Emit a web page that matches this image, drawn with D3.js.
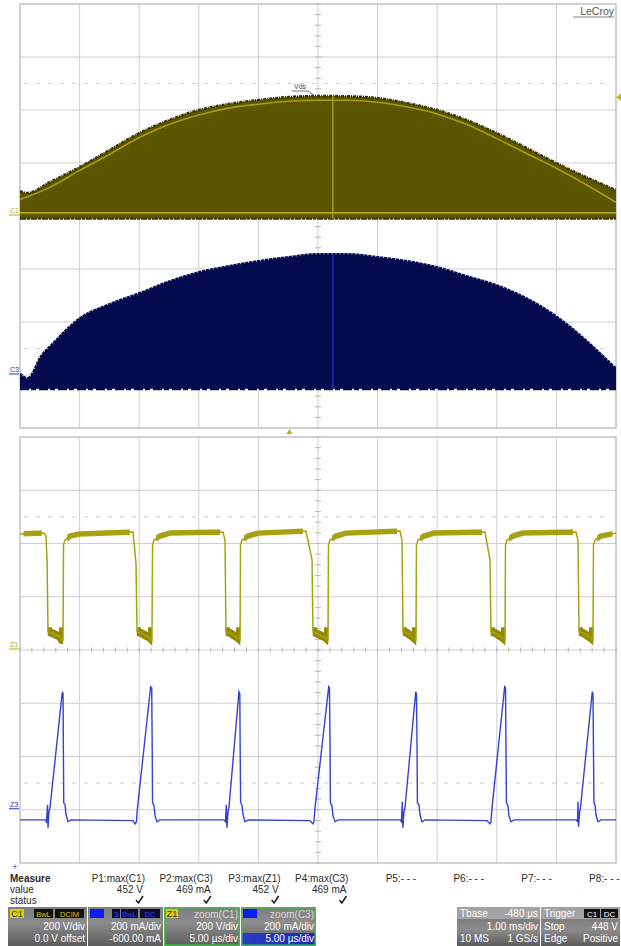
<!DOCTYPE html>
<html><head><meta charset="utf-8">
<script src="https://cdn.jsdelivr.net/npm/d3@7"></script>
<style>
html,body{margin:0;padding:0;background:#fff;}
svg{display:block;font-family:"Liberation Sans",Arial,sans-serif;}
</style></head><body>
<svg id="chart" width="621" height="946"></svg>
<script>
// ---------- DATA ----------
// Upper panel: C1 (Vds, V) and C3 (current, mA) vs time (ms), 1 ms/div
const c1Time = [0, 0.12, 0.5, 1, 1.5, 2, 2.5, 3, 3.5, 4, 4.5, 5, 5.5, 6, 6.5, 7, 7.5, 8, 8.5, 9, 9.5, 10];
const c1Max  = [94, 87, 128, 185, 249, 313, 362, 400, 423, 438, 449, 453, 452, 445, 426, 400, 362, 313, 257, 200, 147, 98];
const c1MidTime = [0, 0.5, 1, 1.5, 2, 2.5, 3, 3.5, 4, 4.5, 5, 5.5, 6, 6.5, 7, 7.5, 8, 8.5, 9, 9.5, 10];
const c1Mid  = [62, 108, 172, 232, 296, 345, 381, 407, 422, 433, 437, 437, 429, 411, 385, 345, 292, 236, 180, 118, 52];
const c1Floor = -10;
const c1Base = 12;

const c3Time = [0, 0.12, 0.34, 0.5, 1, 1.5, 2, 2.5, 3, 3.5, 4, 4.5, 5, 5.5, 6, 6.5, 7, 7.5, 8, 8.5, 9, 9.5, 10];
const c3Max  = [11, -8, 75, 113, 219, 272, 313, 358, 392, 415, 434, 449, 460, 460, 449, 434, 411, 377, 343, 294, 226, 136, 30];
const c3Floor = -52;

const cursorTime = 5.25;      // ms
const triggerTime = 4.52;     // ms
const triggerLevel = 448;     // V
const refLevelV = 500;        // V
const refLevelI = 100;        // mA

// Lower panel: Z1 (zoom C1, V) and Z3 (zoom C3, mA) vs time (µs), 5 µs/div
const z1Time = [0, 2.01, 2.18, 2.27, 2.35, 2.68, 3.36, 3.52, 3.61, 3.65, 3.78, 4.19, 5.03,
  9.48, 9.73, 9.82, 10.15, 10.91, 11.07, 11.12, 11.24, 11.74, 12.58,
  17.03, 17.20, 17.28, 17.62, 18.29, 18.46, 18.50, 18.62, 19.13, 19.97,
  23.99, 24.50, 24.58, 25.00, 25.67, 25.84, 25.88, 26.01, 26.51, 27.35,
  31.88, 32.05, 32.13, 32.47, 33.05, 33.22, 33.26, 33.39, 33.89, 34.73,
  39.01, 39.43, 39.51, 39.85, 40.52, 40.69, 40.73, 40.86, 41.36, 42.20,
  46.64, 46.81, 46.90, 47.23, 47.90, 48.07, 48.11, 48.24, 48.74, 50];
const z1Volt = [436, 439, 428, 338, 68, 64, 49, 38, 38, 394, 413, 428, 436,
  443, 327, 68, 64, 45, 38, 394, 413, 428, 439,
  443, 413, 68, 64, 45, 38, 394, 413, 428, 439,
  447, 338, 68, 60, 45, 38, 394, 413, 428, 439,
  447, 413, 68, 64, 45, 38, 394, 413, 428, 439,
  443, 338, 68, 64, 45, 38, 394, 413, 428, 439,
  443, 413, 68, 64, 45, 38, 394, 413, 428, 439];
const z1HighBands = [[0, 2.12], [3.67, 9.5], [11.13, 17.08], [18.51, 24.02], [25.9, 31.93], [33.28, 39.05], [40.75, 46.68], [48.13, 50]];
const z1LowBands  = [[2.33, 3.62], [9.80, 11.09], [17.26, 18.48], [24.56, 25.86], [32.11, 33.24], [39.49, 40.71], [46.88, 48.09]];

const z3Time = [0, 2.10, 2.22, 2.31, 2.35, 2.43, 2.52, 3.55, 3.61, 3.64, 3.67, 3.78, 3.86, 4.03, 4.28,
  9.48, 9.65, 9.77, 9.82, 10.96, 11.05, 11.09, 11.12, 11.24, 11.33, 11.49, 11.74,
  17.11, 17.24, 17.31, 17.36, 17.45, 17.53, 18.37, 18.44, 18.47, 18.51, 18.62, 18.71, 18.88, 19.13,
  24.33, 24.58, 24.66, 24.75, 25.90, 25.96, 26.01, 26.04, 26.17, 26.26, 26.43, 26.68,
  31.88, 32.00, 32.07, 32.12, 32.21, 32.30, 33.20, 33.26, 33.31, 33.34, 33.47, 33.56, 33.72, 33.98,
  39.18, 39.43, 39.51, 39.60, 40.66, 40.73, 40.77, 40.81, 40.94, 41.02, 41.19, 41.44,
  46.64, 46.77, 46.81, 46.86, 46.95, 47.02, 48.01, 48.07, 48.11, 48.15, 48.24, 48.32, 48.49, 48.74, 50];
const z3Current = [-38, -38, -45, 19, -68, -8, 8, 443, 436, 225, 26, 19, -19, -45, -38,
  -41, -53, -45, -8, 462, 458, 240, 26, 15, -23, -45, -38,
  -38, -45, 19, -68, -8, 8, 443, 436, 225, 26, 19, -19, -45, -38,
  -41, -53, -45, 8, 462, 458, 240, 26, 15, -23, -45, -38,
  -38, -45, 30, -68, -8, 8, 443, 436, 225, 26, 19, -19, -45, -38,
  -41, -53, -45, 8, 462, 458, 240, 26, 15, -23, -45, -38,
  -38, -45, 30, -64, -8, 8, 443, 436, 225, 26, 19, -19, -45, -38, -38];

// Measurement table
const measureNames  = ["P1:max(C1)", "P2:max(C3)", "P3:max(Z1)", "P4:max(C3)", "P5:- - -", "P6:- - -", "P7:- - -", "P8:- - -"];
const measureValues = ["452 V", "469 mA", "452 V", "469 mA", "", "", "", ""];
const measureStatus = [true, true, true, true, false, false, false, false];
const rowLabels = ["Measure", "value", "status"];

// Channel descriptors
const chanRow2 = ["200 V/div", "200 mA/div", "200 V/div", "200 mA/div"];
const chanRow3 = ["0.0 V offset", "-600.00 mA", "5.00 µs/div", "5.00 µs/div"];
const tbaseRows = [["Tbase", "-480 µs"], ["", "1.00 ms/div"], ["10 MS", "1 GS/s"]];
const trigRows  = [["Trigger", ""], ["Stop", "448 V"], ["Edge", "Positive"]];

// ---------- DRAW ----------
const svg = d3.select("#chart");
const L = 20, R = 616, UT = 4, UB = 428, LT = 437, LB = 863;

const xU  = d3.scaleLinear().domain([0, 10]).range([L, R]);
const yV  = d3.scaleLinear().domain([-800, 800]).range([UB, UT]);
const yI  = d3.scaleLinear().domain([-200, 1400]).range([UB, UT]);
const xL  = d3.scaleLinear().domain([0, 50]).range([L, R]);
const yZV = d3.scaleLinear().domain([-800, 800]).range([LB, LT]);
const yZI = d3.scaleLinear().domain([-200, 1400]).range([LB, LT]);

const defs = svg.append("defs");
const g1 = defs.append("linearGradient").attr("id", "boxg").attr("x1", 0).attr("y1", 0).attr("x2", 0).attr("y2", 1);
g1.append("stop").attr("offset", 0).attr("stop-color", "#7e7e7e");
g1.append("stop").attr("offset", 0.4).attr("stop-color", "#8c8c8c");
g1.append("stop").attr("offset", 1).attr("stop-color", "#5c5c5c");
const g2 = defs.append("linearGradient").attr("id", "blueg").attr("x1", 0).attr("y1", 0).attr("x2", 1).attr("y2", 0);
g2.append("stop").attr("offset", 0).attr("stop-color", "#2a3cc8");
g2.append("stop").attr("offset", 1).attr("stop-color", "#1a2ab0");
const cpHi = defs.append("clipPath").attr("id", "z1hi");
z1HighBands.forEach(b => cpHi.append("rect").attr("x", xL(b[0]) + 3.5).attr("width", Math.max(0, xL(b[1]) - xL(b[0]) - 7))
  .attr("y", yZV(470)).attr("height", yZV(405) - yZV(470)));
const cpLo = defs.append("clipPath").attr("id", "z1lo");
z1LowBands.forEach(b => cpLo.append("rect").attr("x", xL(b[0])).attr("width", xL(b[1]) - xL(b[0]))
  .attr("y", yZV(85)).attr("height", yZV(15) - yZV(85)));

function grid(xs, ys, xDivs, yDivs, top, bottom) {
  const g = svg.append("g");
  xDivs.forEach(v => g.append("line").attr("x1", xs(v)).attr("x2", xs(v)).attr("y1", top).attr("y2", bottom)
    .attr("stroke", "#cfcfcf").attr("stroke-width", 1));
  yDivs.forEach(v => g.append("line").attr("x1", L).attr("x2", R).attr("y1", ys(v)).attr("y2", ys(v))
    .attr("stroke", "#cfcfcf").attr("stroke-width", 1));
  g.append("rect").attr("x", L).attr("y", top).attr("width", R - L).attr("height", bottom - top)
    .attr("fill", "none").attr("stroke", "#c4c4c4").attr("stroke-width", 1.2);
  const cx = xs((xs.domain()[0] + xs.domain()[1]) / 2);
  const cy = (top + bottom) / 2;
  const dy = (bottom - top) / 40, dx = (R - L) / 50;
  for (let i = 0; i <= 40; i++) {
    const y = top + i * dy;
    g.append("line").attr("x1", cx - 3).attr("x2", cx + 3).attr("y1", y).attr("y2", y).attr("stroke", "#b8b8b8");
  }
  for (let i = 0; i <= 50; i++) {
    const x = L + i * dx;
    g.append("line").attr("x1", x).attr("x2", x).attr("y1", cy - 2.5).attr("y2", cy + 2.5).attr("stroke", "#b8b8b8");
  }
  return g;
}
grid(xU, yV, d3.range(0, 11), d3.range(-800, 801, 200), UT, UB);
grid(xL, yZV, d3.range(0, 51, 5), d3.range(-800, 801, 200), LT, LB);

function dashed(y) {
  svg.append("line").attr("x1", L + 4).attr("x2", R - 4).attr("y1", y).attr("y2", y)
    .attr("stroke", "#d6d6d6").attr("stroke-width", 1.2).attr("stroke-dasharray", "4,8");
}
dashed(yV(refLevelV)); dashed(yI(refLevelI)); dashed(yZV(refLevelV)); dashed(yZI(refLevelI));

// ---- C1 envelope ----
const c1Data = c1Time.map((t, i) => ({t, v: c1Max[i]}));
const c1MidData = c1MidTime.map((t, i) => ({t, v: c1Mid[i]}));
const curve = d3.curveMonotoneX;
svg.append("path").datum(c1Data)
  .attr("d", d3.area().x(d => xU(d.t)).y0(yV(c1Floor)).y1(d => yV(d.v)).curve(curve))
  .attr("fill", "#5c5500");
svg.append("path").datum(c1Data)
  .attr("d", d3.line().x(d => xU(d.t)).y(d => yV(d.v)).curve(curve))
  .attr("fill", "none").attr("stroke", "#3b3700").attr("stroke-width", 2.4).attr("stroke-dasharray", "3,1,1,1");
svg.append("path").datum(c1MidData)
  .attr("d", d3.line().x(d => xU(d.t)).y(d => yV(d.v)).curve(curve))
  .attr("fill", "none").attr("stroke", "#a59d10").attr("stroke-width", 1.6);
svg.append("line").attr("x1", L).attr("x2", R).attr("y1", yV(c1Base)).attr("y2", yV(c1Base))
  .attr("stroke", "#b0a812").attr("stroke-width", 1.8);
svg.append("line").attr("x1", L).attr("x2", R).attr("y1", yV(c1Floor)).attr("y2", yV(c1Floor))
  .attr("stroke", "#3d3900").attr("stroke-width", 2).attr("stroke-dasharray", "6,1,3,1");
svg.append("line").attr("x1", xU(cursorTime)).attr("x2", xU(cursorTime))
  .attr("y1", yV(452)).attr("y2", yV(c1Floor)).attr("stroke", "#b5ad14").attr("stroke-width", 1.2);

// ---- C3 envelope ----
const c3Data = c3Time.map((t, i) => ({t, v: c3Max[i]}));
svg.append("path").datum(c3Data)
  .attr("d", d3.area().x(d => xU(d.t)).y0(yI(c3Floor)).y1(d => yI(d.v)).curve(curve))
  .attr("fill", "#040a4e");
svg.append("path").datum(c3Data)
  .attr("d", d3.line().x(d => xU(d.t)).y(d => yI(d.v)).curve(curve))
  .attr("fill", "none").attr("stroke", "#ffffff").attr("stroke-width", 2.6).attr("stroke-dasharray", "1,3").attr("opacity", 0.8);
svg.append("line").attr("x1", L).attr("x2", R).attr("y1", yI(c3Floor)).attr("y2", yI(c3Floor))
  .attr("stroke", "#040a4e").attr("stroke-width", 3).attr("stroke-dasharray", "9,2,5,3");
svg.append("line").attr("x1", xU(cursorTime)).attr("x2", xU(cursorTime))
  .attr("y1", yI(460)).attr("y2", yI(c3Floor)).attr("stroke", "#1f34c0").attr("stroke-width", 1.4);

// ---- Z1 ----
const z1Color = "#aaa112";
const z1Data = z1Time.map((t, i) => ({t, v: z1Volt[i]}));
const z1Line = d3.line().x(d => xL(d.t)).y(d => yZV(d.v));
svg.append("path").datum(z1Data).attr("d", z1Line).attr("clip-path", "url(#z1hi)")
  .attr("fill", "none").attr("stroke", z1Color).attr("stroke-width", 5.5);
svg.append("path").datum(z1Data).attr("d", z1Line).attr("clip-path", "url(#z1lo)")
  .attr("fill", "none").attr("stroke", "#948b04").attr("stroke-width", 8);
svg.append("path").datum(z1Data).attr("d", z1Line)
  .attr("fill", "none").attr("stroke", z1Color).attr("stroke-width", 1.5);

// ---- Z3 ----
svg.append("path").datum(z3Time.map((t, i) => ({t, v: z3Current[i]})))
  .attr("d", d3.line().x(d => xL(d.t)).y(d => yZI(d.v)))
  .attr("fill", "none").attr("stroke", "#3243d2").attr("stroke-width", 1.4);

// ---- markers / labels ----
function chanLabel(txt, y, color) {
  svg.append("text").attr("x", 10).attr("y", y).attr("font-size", 7).attr("fill", color).text(txt);
  svg.append("line").attr("x1", 9).attr("x2", 19).attr("y1", y + 2).attr("y2", y + 2).attr("stroke", color).attr("stroke-width", 1);
}
chanLabel("C1", yV(0) - 3, "#b0a812");
chanLabel("C3", yI(0) - 3, "#2636c8");
chanLabel("Z1", yZV(0) - 3, "#b0a812");
chanLabel("Z3", yZI(0) - 3, "#2636c8");

svg.append("text").attr("x", 300).attr("y", 89).attr("text-anchor", "middle").attr("font-size", 7).attr("fill", "#444").text("Vds");
svg.append("line").attr("x1", 292).attr("x2", 308).attr("y1", 91).attr("y2", 91).attr("stroke", "#555").attr("stroke-width", 0.8);
svg.append("line").attr("x1", 308).attr("x2", 314).attr("y1", 91).attr("y2", 95).attr("stroke", "#555").attr("stroke-width", 0.8);

const tx = xU(triggerTime);
svg.append("path").attr("d", `M${tx - 3},${434} L${tx + 3},${434} L${tx},${429} Z`).attr("fill", "#b8b000");
const ty = yV(triggerLevel);
svg.append("path").attr("d", `M${621},${ty - 4} L${621},${ty + 4} L${616},${ty} Z`).attr("fill", "#c8c000");

svg.append("text").attr("x", 614).attr("y", 15).attr("text-anchor", "end").attr("font-size", 10.5).attr("fill", "#555").text("LeCroy");
svg.append("line").attr("x1", 573).attr("x2", 614).attr("y1", 17).attr("y2", 17).attr("stroke", "#666").attr("stroke-width", 0.8);

svg.append("text").attr("x", 15).attr("y", 870).attr("text-anchor", "middle").attr("font-size", 9).attr("fill", "#3344dd").text("+");

// ---- measurement table ----
const mt = svg.append("g").attr("font-size", 10).attr("fill", "#2a2a2a");
mt.append("text").attr("x", 10).attr("y", 882).attr("font-weight", "bold").text(rowLabels[0]);
mt.append("text").attr("x", 10).attr("y", 893).text(rowLabels[1]);
mt.append("text").attr("x", 10).attr("y", 904).text(rowLabels[2]);
measureNames.forEach((n, i) => {
  const xr = 145 + i * 67.8;
  mt.append("text").attr("x", xr).attr("y", 882).attr("text-anchor", "end").text(n);
  if (measureValues[i]) mt.append("text").attr("x", xr - 2).attr("y", 893).attr("text-anchor", "end").text(measureValues[i]);
  if (measureStatus[i]) mt.append("path")
    .attr("d", `M${xr - 9},${900} L${xr - 6.5},${903} L${xr - 2},${896}`)
    .attr("fill", "none").attr("stroke", "#222").attr("stroke-width", 1.6);
});

// ---- channel boxes ----
const boxX = [[8, 87], [88, 163], [164, 240], [241, 316]];
const bt = 907, bb = 946;
boxX.forEach((b, i) => {
  const g = svg.append("g");
  g.append("rect").attr("x", b[0]).attr("y", bt).attr("width", b[1] - b[0]).attr("height", bb - bt).attr("fill", "url(#boxg)");
  if (i === 3) g.append("rect").attr("x", b[0] + 1).attr("y", 933).attr("width", b[1] - b[0] - 2).attr("height", 12).attr("fill", "url(#blueg)");
  if (i >= 2) g.append("rect").attr("x", b[0] + 0.75).attr("y", bt + 0.75).attr("width", b[1] - b[0] - 1.5).attr("height", bb - bt - 1.5)
    .attr("fill", "none").attr("stroke", "#3fbf45").attr("stroke-width", 1.5);
  g.append("text").attr("x", b[1] - 2).attr("y", 930).attr("text-anchor", "end").attr("font-size", 10).attr("fill", "#fff").text(chanRow2[i]);
  g.append("text").attr("x", b[1] - 2).attr("y", 942).attr("text-anchor", "end").attr("font-size", 10).attr("fill", "#fff").text(chanRow3[i]);
});
function tag(x, w, bg, fg, txt, fs) {
  svg.append("rect").attr("x", x).attr("y", 909).attr("width", w).attr("height", 9).attr("fill", bg);
  if (txt) svg.append("text").attr("x", x + w / 2).attr("y", 917).attr("text-anchor", "middle").attr("font-size", fs || 8).attr("fill", fg).text(txt);
}
tag(10, 14, "#d9d000", "#333", "C1", 9);
tag(34, 19, "#111", "#d4cc00", "BwL", 7.5);
tag(55, 29, "#111", "#d4cc00", "DCIM", 7.5);
tag(90, 14, "#0a1ef0", "#fff", "", 8);
tag(112, 8, "#0c0c30", "#2a40ff", "3", 7.5);
tag(121, 17, "#0c0c30", "#2a40ff", "BwL", 7.5);
tag(140, 20, "#0c0c30", "#2a40ff", "DC", 7.5);
tag(166, 12, "#d9d000", "#333", "Z1", 9);
svg.append("text").attr("x", 238).attr("y", 918).attr("text-anchor", "end").attr("font-size", 10).attr("fill", "#d8d8d8").text("zoom(C1)");
tag(243, 14, "#0a1ef0", "#fff", "", 8);
svg.append("text").attr("x", 314).attr("y", 918).attr("text-anchor", "end").attr("font-size", 10).attr("fill", "#d8d8d8").text("zoom(C3)");

// ---- timebase / trigger ----
function infoBox(x0, x1, rows) {
  svg.append("rect").attr("x", x0).attr("y", bt).attr("width", x1 - x0).attr("height", 12).attr("fill", "#a2a2a2");
  svg.append("rect").attr("x", x0).attr("y", bt + 12).attr("width", x1 - x0).attr("height", bb - bt - 12).attr("fill", "url(#boxg)");
  rows.forEach((r, i) => {
    const y = 917 + i * 12.5;
    if (r[0]) svg.append("text").attr("x", x0 + 3).attr("y", y).attr("font-size", 10).attr("fill", "#fff").text(r[0]);
    if (r[1]) svg.append("text").attr("x", x1 - 2).attr("y", y).attr("text-anchor", "end").attr("font-size", 10).attr("fill", "#fff").text(r[1]);
  });
}
infoBox(457, 540, tbaseRows);
infoBox(541, 620, trigRows);
tag(584, 16, "#111", "#fff", "C1", 8);
tag(601, 17, "#111", "#fff", "DC", 8);
</script>
</body></html>
